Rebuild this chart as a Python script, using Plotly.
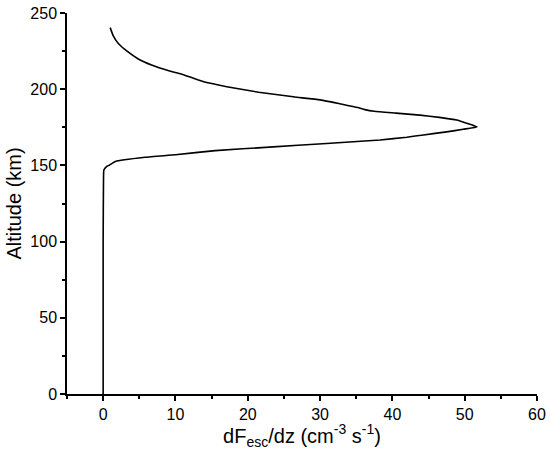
import plotly.graph_objects as go

# altitude profile of dF_esc/dz
altitude_km = [0, 50, 100, 141.5, 147, 149.3, 150.3, 152.6, 155.3, 157, 159.7, 162, 164.4,
               166.7, 168.5, 170, 172, 173.7, 175.2, 177.6, 179.8, 181.5, 183, 184.3, 185.5,
               186.6, 188, 190, 193, 195, 198, 201.6, 205, 209.7, 212, 215.9, 220,
               224.6, 230, 235, 240.4]
dfesc_dz = [0, 0, 0, 0.05, 0.1, 0.5, 0.9, 1.7, 5.8, 10, 15.5, 23, 30.9,
            38.3, 42, 44.3, 47.5, 49.8, 51.7, 50.3, 48.9, 46.5, 43.8, 40.5, 37.5,
            36.2, 35.2, 33.2, 30, 26.3, 21.5, 17.1, 13.8, 11.0, 9.2, 6.7, 4.8,
            3.4, 2.1, 1.4, 0.97]

fig = go.Figure(go.Scatter(
    x=dfesc_dz,
    y=altitude_km,
    mode='lines',
    line=dict(color='black', width=1.6, shape='spline', smoothing=0.4),
    showlegend=False
))

axis_common = dict(
    showline=True,
    linecolor='black',
    linewidth=1.5,
    ticks='outside',
    ticklen=5,
    tickwidth=1.5,
    tickcolor='black',
    showgrid=False,
    zeroline=False,
    mirror=False,
    automargin=False,
    tickfont=dict(size=16, color='black'),
)

fig.update_xaxes(
    range=[-5, 60],
    tickvals=[0, 10, 20, 30, 40, 50, 60],
    minor=dict(ticks='outside', ticklen=3, tickwidth=1.5, tickcolor='black',
               tickvals=[-5, 5, 15, 25, 35, 45, 55]),
    title=dict(text='dF<sub>esc</sub>/dz (cm<sup>-3</sup> s<sup>-1</sup>)',
               font=dict(size=20, color='black'), standoff=0),
    **axis_common
)
fig.update_yaxes(
    range=[0, 250],
    tickvals=[0, 50, 100, 150, 200, 250],
    minor=dict(ticks='outside', ticklen=3, tickwidth=1.5, tickcolor='black',
               tickvals=[25, 75, 125, 175, 225]),
    title=dict(text='Altitude (km)', font=dict(size=20, color='black'), standoff=3),
    **axis_common
)

fig.update_layout(
    width=550,
    height=450,
    font=dict(family='Liberation Sans, Arial, sans-serif', color='black'),
    plot_bgcolor='white',
    paper_bgcolor='white',
    margin=dict(l=67, r=13, t=13, b=56)
)

# drop the default page margin so the figure sits at the window's corner
fig.write_html("out.html", config={'displayModeBar': False},
               post_script="document.body.style.margin='0px';")
